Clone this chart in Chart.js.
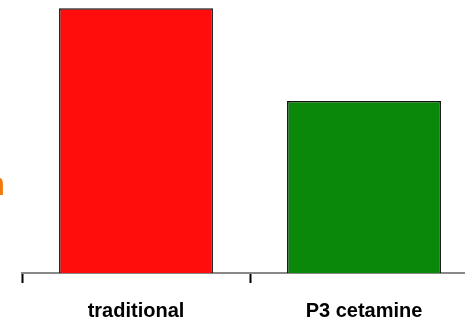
<!DOCTYPE html>
<html>
<head>
<meta charset="utf-8">
<script src="https://cdn.jsdelivr.net/npm/chart.js@4/dist/chart.umd.min.js"></script>
<style>
  html, body { margin: 0; padding: 0; background: #fff; overflow: hidden; }
  #wrap { width: 465px; height: 326px; overflow: hidden; }
</style>
</head>
<body>
<div id="wrap"><canvas id="bars" width="492" height="343"></canvas></div>
<script>
const categories = ['traditional', 'P3 cetamine'];
const values = [97, 63];
const barColors = ['#ff0d0d', '#0a880a'];

// orange axis title, mostly cut off by the left edge
const sideTitle = {
  id: 'sideTitle',
  afterDraw(chart) {
    const ctx = chart.ctx;
    ctx.save();
    ctx.fillStyle = '#f07a10';
    ctx.font = 'bold 34px "Liberation Sans", sans-serif';
    ctx.textAlign = 'right';
    ctx.textBaseline = 'alphabetic';
    ctx.fillText('Production', 5, 195);
    ctx.restore();
  }
};

const ctx = document.getElementById('bars').getContext('2d');
new Chart(ctx, {
  type: 'bar',
  data: {
    labels: categories,
    datasets: [{
      data: values,
      backgroundColor: barColors,
      borderColor: '#111',
      borderWidth: 1.5,
      barPercentage: 0.75,
      categoryPercentage: 0.9
    }]
  },
  options: {
    responsive: false,
    animation: false,
    layout: { padding: { left: 22, right: 14, top: 0, bottom: 4 } },
    plugins: { legend: { display: false }, tooltip: { enabled: false } },
    scales: {
      y: { display: false, min: 0, max: 100 },
      x: {
        grid: {
          display: true,
          offset: true,
          drawOnChartArea: false,
          drawTicks: true,
          tickLength: 10,
          tickColor: '#000',
          tickWidth: 2
        },
        border: { display: true, color: '#888', width: 2 },
        ticks: {
          color: '#000',
          padding: 16,
          font: { family: '"Liberation Sans", sans-serif', size: 20, weight: 'bold' }
        }
      }
    }
  },
  plugins: [sideTitle]
});
</script>
</body>
</html>
